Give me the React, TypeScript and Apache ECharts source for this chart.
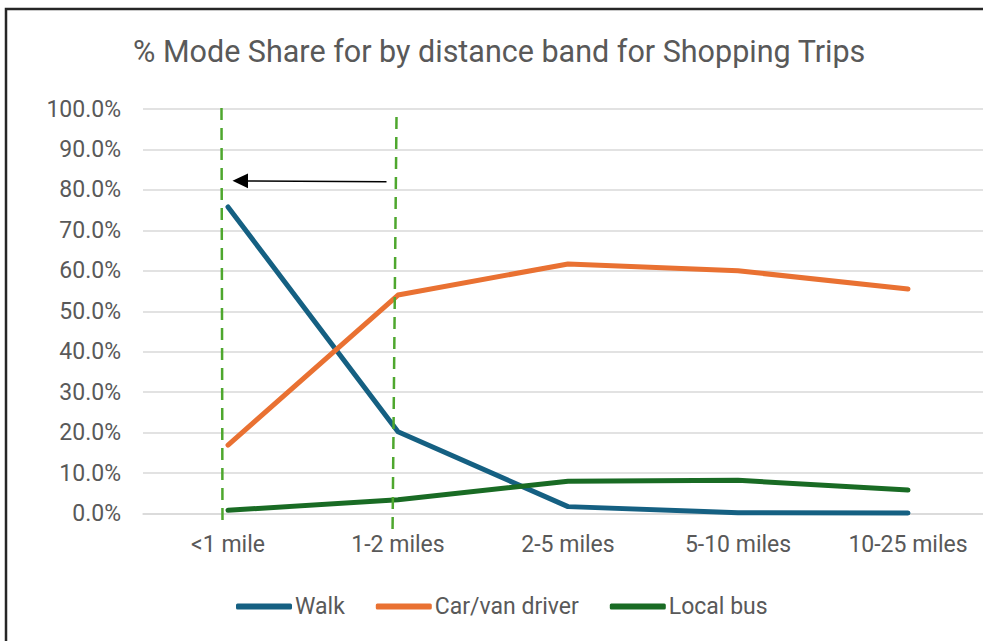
import React, { useEffect, useRef } from "react";
import * as echarts from "echarts";

const categories = ["<1 mile", "1-2 miles", "2-5 miles", "5-10 miles", "10-25 miles"];
const walk = [75.8, 20.2, 1.7, 0.2, 0.1];
const carVanDriver = [16.9, 54.0, 61.7, 60.0, 55.5];
const localBus = [0.8, 3.4, 8.0, 8.2, 5.8];
const seriesNames = ["Walk", "Car/van driver", "Local bus"];
const colors = ["#156082", "#E97132", "#196B24"];
const titleText = "% Mode Share for by distance band for Shopping Trips";

const FONT = "Roboto";
const TXT = "#595959";

export default function App() {
  const ref = useRef<HTMLDivElement>(null);
  useEffect(() => {
    if (!ref.current) return;
    const chart = echarts.init(ref.current, null, { renderer: "svg" });
    const mk = (name: string, data: number[], color: string) => ({
      name,
      type: "line",
      data,
      symbol: "none",
      smooth: false,
      color,
      lineStyle: { width: 5, color, cap: "round", join: "round" },
      z: 3,
    });
    chart.setOption({
      animation: false,
      backgroundColor: "#ffffff",
      title: {
        text: titleText,
        left: 128,
        top: 31,
        textStyle: { fontFamily: FONT, fontSize: 30.5, fontWeight: "normal", color: TXT },
      },
      legend: {
        data: seriesNames,
        left: 231,
        top: 590,
        icon: "roundRect",
        itemWidth: 56,
        itemHeight: 6,
        itemGap: 31,
        textStyle: { fontFamily: FONT, fontSize: 23, color: TXT, padding: [0, 0, 0, -2] },
      },
      grid: { left: 143, top: 109, width: 850, height: 404.5, containLabel: false },
      xAxis: {
        type: "category",
        data: categories,
        boundaryGap: true,
        axisLine: { show: true, lineStyle: { color: "#D9D9D9", width: 1.5 } },
        axisTick: { show: false },
        axisLabel: { fontFamily: FONT, fontSize: 23, color: TXT, margin: 19 },
      },
      yAxis: {
        type: "value",
        min: 0,
        max: 100,
        interval: 10,
        axisLine: { show: false },
        axisTick: { show: false },
        splitLine: { lineStyle: { color: "#D9D9D9", width: 1.5 } },
        axisLabel: {
          fontFamily: FONT,
          fontSize: 23,
          color: TXT,
          margin: 22,
          formatter: (v: number) => v.toFixed(1) + "%",
        },
      },
      series: [mk(seriesNames[0], walk, colors[0]), mk(seriesNames[1], carVanDriver, colors[1]), mk(seriesNames[2], localBus, colors[2])],
      graphic: [
        {
          type: "rect",
          shape: { x: 6, y: 9, width: 1200, height: 800 },
          style: { fill: "none", stroke: "#262626", lineWidth: 2.5 },
          z: 10,
        },
        {
          type: "line",
          shape: { x1: 221.5, y1: 108, x2: 222.5, y2: 528 },
          style: { stroke: "#4EA72E", lineWidth: 2.5, lineDash: [12, 8] },
          z: 5,
        },
        {
          type: "line",
          shape: { x1: 396.5, y1: 117, x2: 392.5, y2: 537 },
          style: { stroke: "#4EA72E", lineWidth: 2.5, lineDash: [12, 8] },
          z: 5,
        },
        {
          type: "line",
          shape: { x1: 386.5, y1: 181.8, x2: 246, y2: 181 },
          style: { stroke: "#000000", lineWidth: 1.6 },
          z: 6,
        },
        {
          type: "polygon",
          shape: { points: [[232.5, 180.8], [248, 173.5], [248, 188.2]] },
          style: { fill: "#000000" },
          z: 6,
        },
      ],
    });
    return () => chart.dispose();
  }, []);
  return (
    <div style={{ position: "fixed", left: 0, top: 0, width: 983, height: 641, overflow: "hidden", background: "#fff" }}>
      <div ref={ref} style={{ width: 1010, height: 641 }} />
    </div>
  );
}
